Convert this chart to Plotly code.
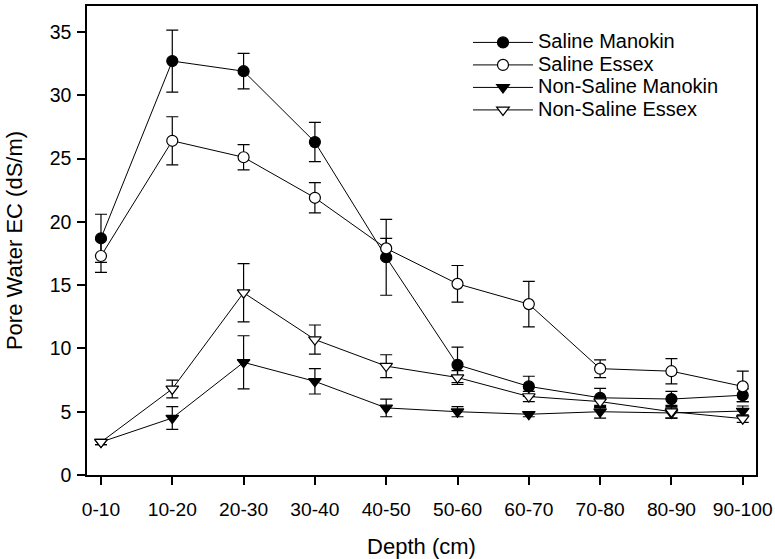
import plotly.graph_objects as go

depths = ["0-10", "10-20", "20-30", "30-40", "40-50", "50-60", "60-70", "70-80", "80-90", "90-100"]

saline_manokin = [18.7, 32.7, 31.9, 26.3, 17.2, 8.7, 7.0, 6.1, 6.0, 6.3]
saline_manokin_err = [1.9, 2.45, 1.4, 1.55, 3.0, 1.4, 0.8, 0.75, 0.6, 0.5]

saline_essex = [17.3, 26.4, 25.1, 21.9, 17.9, 15.1, 13.5, 8.4, 8.2, 7.0]
saline_essex_err = [1.3, 1.9, 1.0, 1.2, 0.8, 1.45, 1.8, 0.7, 1.0, 1.2]

nonsaline_manokin = [2.6, 4.5, 8.9, 7.4, 5.3, 5.0, 4.8, 5.0, 4.9, 5.05]
nonsaline_manokin_err = [0.2, 0.9, 2.1, 1.0, 0.7, 0.4, 0.2, 0.5, 0.4, 0.4]

nonsaline_essex = [2.6, 6.8, 14.4, 10.7, 8.6, 7.7, 6.2, 5.8, 5.0, 4.45]
nonsaline_essex_err = [0.2, 0.7, 2.3, 1.15, 0.9, 0.55, 0.4, 0.4, 0.5, 0.3]

series = [
    ("Saline Manokin", saline_manokin, saline_manokin_err, "circle", "black"),
    ("Saline Essex", saline_essex, saline_essex_err, "circle", "white"),
    ("Non-Saline Manokin", nonsaline_manokin, nonsaline_manokin_err, "triangle-down", "black"),
    ("Non-Saline Essex", nonsaline_essex, nonsaline_essex_err, "triangle-down", "white"),
]

FONT = "Liberation Sans, Arial, sans-serif"

fig = go.Figure()
for name, vals, errs, sym, fill in series:
    fig.add_trace(go.Scatter(
        x=depths, y=vals,
        name='<span style="font-size:20px">' + name + '</span>',
        mode="lines+markers",
        line=dict(color="black", width=1),
        marker=dict(symbol=sym, size=11, color=fill, line=dict(color="black", width=1.2)),
        error_y=dict(type="data", array=errs, visible=True, color="black", thickness=1.2, width=6),
    ))

fig.update_layout(
    width=775, height=559,
    margin=dict(l=87, r=19, t=6, b=84, autoexpand=False),
    paper_bgcolor="white", plot_bgcolor="white",
    font=dict(family=FONT, size=20, color="black"),
    showlegend=True,
    legend=dict(x=0.5695, y=0.957, xanchor="left", yanchor="top",
                bgcolor="rgba(0,0,0,0)", font=dict(size=15, family=FONT),
                itemwidth=60, tracegroupgap=0),
    xaxis=dict(
        type="category", range=[-0.196, 9.186], automargin=False,
        showline=True, linecolor="black", linewidth=1.5, mirror=True,
        ticks="outside", ticklen=8, tickwidth=1.5, tickcolor="black",
        showgrid=False, zeroline=False, ticklabelstandoff=8,
        tickfont=dict(size=19.2),
        title=dict(text="Depth (cm)", font=dict(size=22), standoff=20),
    ),
    yaxis=dict(
        range=[0, 37.05], tick0=0, dtick=5, automargin=False,
        showline=True, linecolor="black", linewidth=1.5, mirror=True,
        ticks="outside", ticklen=8, tickwidth=1.5, tickcolor="black",
        showgrid=False, zeroline=False, ticklabelstandoff=2,
        tickfont=dict(size=19.5),
        title=dict(text="Pore Water EC (dS/m)", font=dict(size=22), standoff=21),
    ),
)

# remove the default page margin so the 775x559 figure fills the window exactly
fig.write_html("out.html",
               config={"displayModeBar": False},
               post_script="document.body.style.margin='0';document.body.style.overflow='hidden';")
